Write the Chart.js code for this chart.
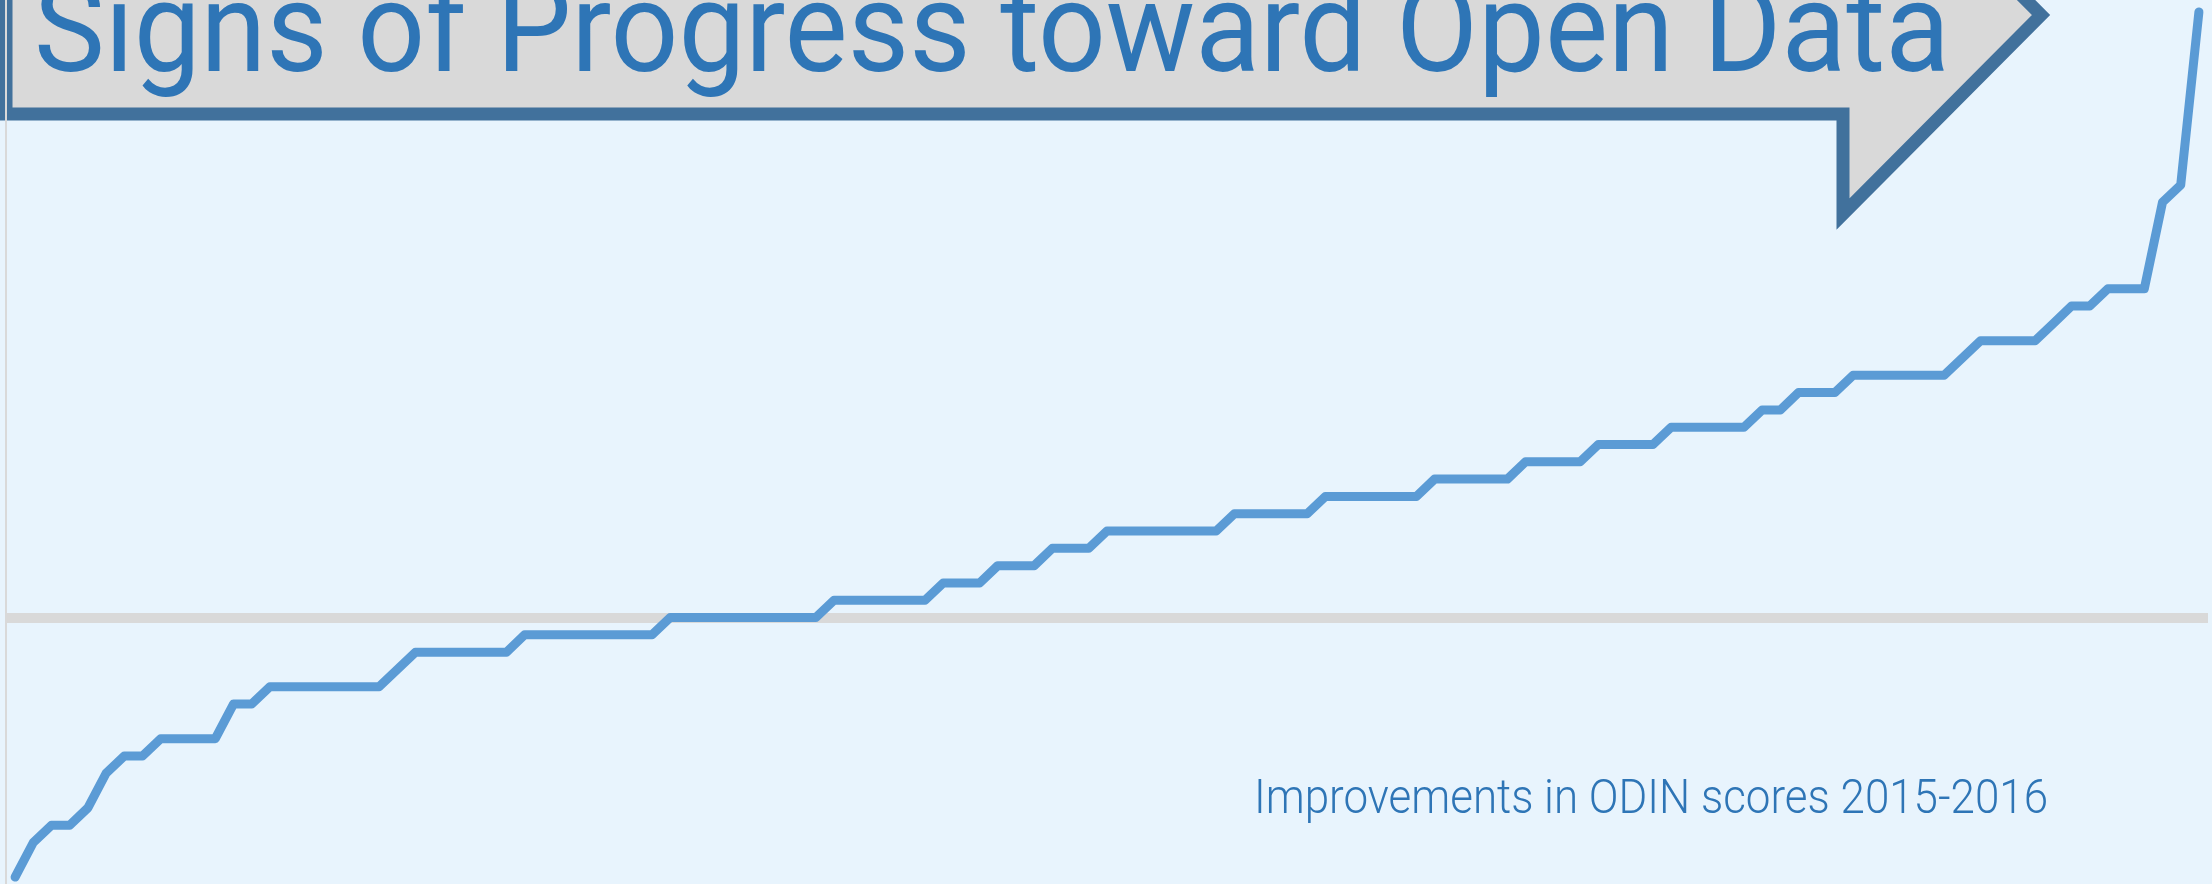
<!DOCTYPE html>
<html lang="en">
<head>
    <meta charset="UTF-8">
    <title>Signs of Progress toward Open Data</title>
    <script src="https://cdn.jsdelivr.net/npm/chart.js"></script>
    <style>
        html, body {
            margin: 0;
            padding: 0;
            background: #E8F4FD;
        }
        .chart-container {
            width: 2212px;
            height: 884px;
            position: relative;
        }
    </style>
</head>
<body>
    <div class="chart-container">
        <canvas id="odinChart"></canvas>
    </div>

    <script>
        // Change in ODIN score per country, 2015 -> 2016, sorted ascending
        const scoreChange = [
            -15, -13, -12, -12, -11, -9, -8, -8, -7, -7, -7, -7, -5, -5,
            -4, -4, -4, -4, -4, -4, -4, -3,
            -2, -2, -2, -2, -2, -2,
            -1, -1, -1, -1, -1, -1, -1, -1,
            0, 0, 0, 0, 0, 0, 0, 0, 0,
            1, 1, 1, 1, 1, 1,
            2, 2, 2, 3, 3, 3, 4, 4, 4,
            5, 5, 5, 5, 5, 5, 5,
            6, 6, 6, 6, 6,
            7, 7, 7, 7, 7, 7,
            8, 8, 8, 8, 8,
            9, 9, 9, 9, 10, 10, 10, 10,
            11, 11, 11, 11, 11, 12, 12, 13, 13, 13,
            14, 14, 14, 14, 14, 14, 15, 16, 16, 16, 16, 17, 18, 18,
            19, 19, 19, 24, 25, 35
        ];
        // one category per country (rank)
        const ranks = scoreChange.map((v, i) => i + 1);

        const titleText = 'Signs of Progress toward Open Data';
        const subtitleText = 'Improvements in ODIN scores 2015-2016';

        // background, arrow banner and captions
        const decorPlugin = {
            id: 'decor',
            beforeDraw(chart) {
                const ctx = chart.ctx;
                ctx.save();
                ctx.fillStyle = '#E8F4FD';
                ctx.fillRect(0, 0, chart.width, chart.height);

                // arrow banner (partly above the top edge)
                ctx.beginPath();
                ctx.moveTo(6, -200);
                ctx.lineTo(6, 114);
                ctx.lineTo(1843, 114);
                ctx.lineTo(1843, 214);
                ctx.lineTo(2041, 15);
                ctx.lineTo(1843, -184);
                ctx.lineTo(1843, -200);
                ctx.closePath();
                ctx.fillStyle = '#D9D9D9';
                ctx.fill();
                ctx.lineWidth = 13;
                ctx.lineJoin = 'miter';
                ctx.strokeStyle = '#41719C';
                ctx.stroke();

                ctx.fillStyle = '#2E75B6';
                ctx.textBaseline = 'alphabetic';
                ctx.textAlign = 'left';
                ctx.font = '126px Roboto, "Liberation Sans", sans-serif';
                ctx.fillText(titleText, 34, 71, 1916);

                ctx.font = '300 48px Roboto, "Liberation Sans", sans-serif';
                ctx.fillText(subtitleText, 1254, 813, 794);
                ctx.restore();
            }
        };

        const ctx = document.getElementById('odinChart').getContext('2d');
        new Chart(ctx, {
            type: 'line',
            data: {
                labels: ranks,
                datasets: [{
                    label: 'Change in ODIN score',
                    data: scoreChange,
                    borderColor: '#5B9BD5',
                    borderWidth: 9,
                    borderCapStyle: 'round',
                    borderJoinStyle: 'round',
                    pointRadius: 0,
                    tension: 0,
                    fill: false,
                    clip: false
                }]
            },
            options: {
                responsive: true,
                maintainAspectRatio: false,
                animation: false,
                layout: {
                    padding: { left: 6, right: 4, top: 0, bottom: 0 }
                },
                plugins: {
                    legend: { display: false },
                    tooltip: { enabled: false }
                },
                scales: {
                    x: {
                        type: 'category',
                        offset: true,
                        display: false
                    },
                    y: {
                        min: -15.4,
                        max: 35.69,
                        afterBuildTicks: function (axis) {
                            axis.ticks = [{ value: 0 }];
                        },
                        ticks: { display: false },
                        grid: {
                            drawTicks: false,
                            color: '#D9D9D9',
                            lineWidth: 10
                        },
                        border: {
                            display: true,
                            color: '#D9D9D9',
                            width: 2
                        }
                    }
                }
            },
            plugins: [decorPlugin]
        });
    </script>
</body>
</html>
